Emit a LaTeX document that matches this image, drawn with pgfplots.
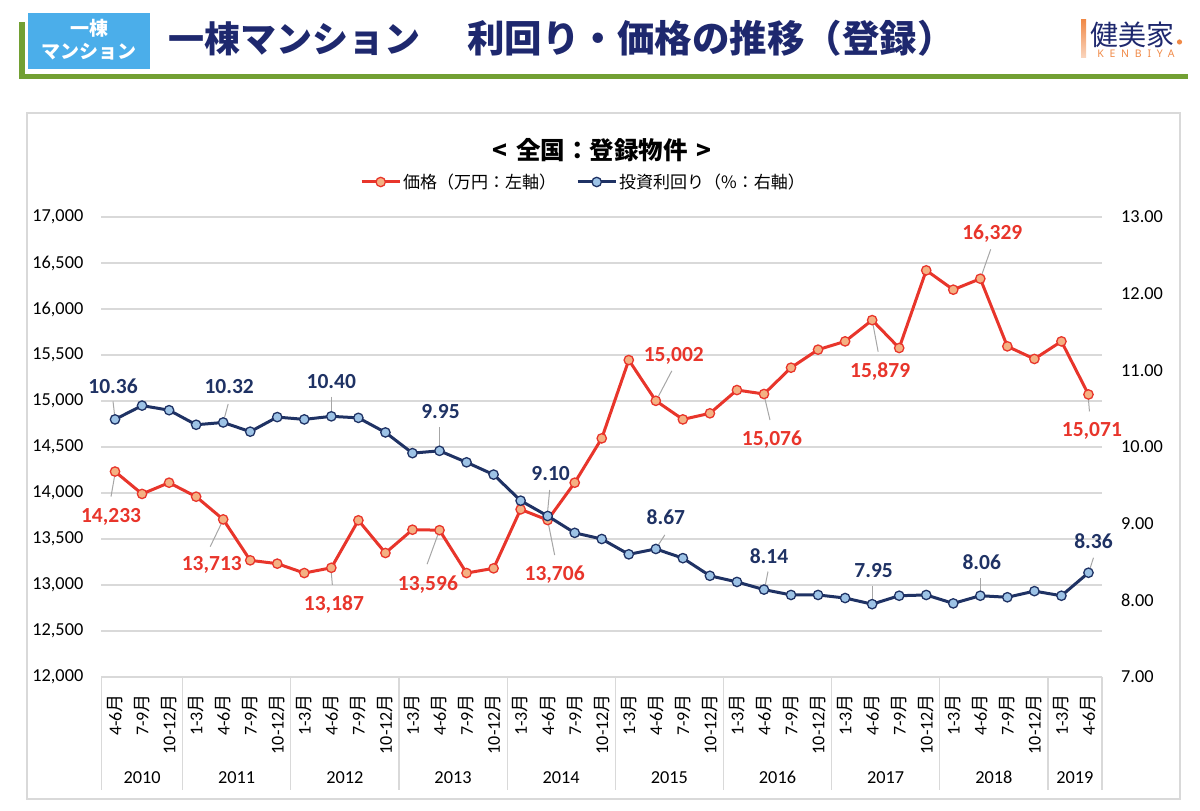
\documentclass[border=0pt]{standalone}
\usepackage{fontspec}
\setmainfont{Carlito}
\newfontfamily\jp{Noto Sans CJK JP}
\newfontfamily\ken{Noto Sans}[LetterSpace=55]
\usepackage{pgfplots}
\usepackage{pgfplotstable}
\pgfplotsset{compat=1.18}
\definecolor{pr}{HTML}{E8352B}
\definecolor{prfill}{HTML}{F4B183}
\definecolor{yl}{HTML}{1F3264}
\definecolor{ylfill}{HTML}{9DC3E6}
\definecolor{gridc}{HTML}{D9D9D9}
\definecolor{navy}{HTML}{1E286E}
\definecolor{hgreen}{HTML}{72A033}
\definecolor{hblue}{HTML}{4BAEEA}
\definecolor{orng}{HTML}{F08A48}
\definecolor{leadc}{HTML}{A6A6A6}
\tikzset{
 pricestyle/.style={pr, line width=3pt, mark=*, mark size=4.7pt, mark options={fill=prfill, draw=pr, line width=1.3pt}},
 yieldstyle/.style={yl, line width=3pt, mark=*, mark size=4.7pt, mark options={fill=ylfill, draw=yl, line width=1.3pt}},
}
\newcommand\M{{\jp 月}}
\newcommand\lead[5]{\draw[leadc, line width=1pt] ([xshift=#2pt,yshift=#3pt]axis cs:#1) -- ([xshift=#4pt,yshift=#5pt]axis cs:#1);}
\newcommand\lbl[5]{\node[font=\bfseries\fontsize{21.5}{24}\selectfont, text=#5, text height=13.8pt, text depth=0pt, inner sep=0pt, anchor=center] at ([xshift=#2pt,yshift=#3pt]axis cs:#1) {#4};}

\pgfplotstableread{
i price
0 14233
1 13990
2 14112
3 13960
4 13713
5 13268
6 13232
7 13130
8 13187
9 13703
10 13348
11 13601
12 13596
13 13130
14 13181
15 13822
16 13706
17 14112
18 14594
19 15445
20 15002
21 14800
22 14866
23 15119
24 15076
25 15362
26 15558
27 15648
28 15879
29 15576
30 16420
31 16210
32 16329
33 15594
34 15457
35 15648
36 15071
}\pricetab
\pgfplotstableread{
i yield
0 10.36
1 10.54
2 10.48
3 10.29
4 10.32
5 10.20
6 10.39
7 10.36
8 10.40
9 10.38
10 10.19
11 9.92
12 9.95
13 9.80
14 9.64
15 9.30
16 9.10
17 8.88
18 8.80
19 8.60
20 8.67
21 8.55
22 8.32
23 8.24
24 8.14
25 8.07
26 8.07
27 8.03
28 7.95
29 8.06
30 8.07
31 7.96
32 8.06
33 8.04
34 8.12
35 8.06
36 8.36
}\yieldtab

\begin{document}
\begin{tikzpicture}
\path[use as bounding box] (0pt,0pt) rectangle (1200pt,811pt);
% header
\fill[hgreen] (19pt,789pt) rectangle (25pt,732pt);
\fill[hgreen] (19pt,737pt) rectangle (1188pt,732pt);
\fill[hblue] (28pt,798pt) rectangle (150pt,742pt);
\node[text=white, font=\jp\bfseries\fontsize{19}{22}\selectfont, inner sep=0pt] at (89pt,782.5pt) {一棟};
\node[text=white, font=\jp\bfseries\fontsize{19}{22}\selectfont, inner sep=0pt] at (89pt,759.5pt) {マンション};
\node[text=navy, font=\jp\bfseries\fontsize{36}{40}\selectfont, inner sep=0pt, anchor=west] at (168pt,773pt) {一棟マンション　\hspace{0.3em}{\fontsize{37.5}{40}\selectfont 利回り・価格の推移（登録）}};
\shade[top color=orng, bottom color=orng!35] (1081pt,791pt) rectangle (1086pt,753pt);
\node[text=navy, font=\jp\fontsize{28}{30}\selectfont, inner sep=0pt, anchor=west] at (1090pt,776.5pt) {健美家};
\fill[orng] (1179.5pt,769pt) circle (2.6pt);
\node[text=orng, font=\ken\fontsize{10.5}{12}\selectfont, inner sep=0pt] at (1136pt,757pt) {KENBIYA};
% chart frame
\draw[gridc, line width=1.3pt] (27pt,698pt) rectangle (1180pt,12pt);
\node[font=\jp\bfseries\fontsize{24.5}{27}\selectfont, inner sep=0pt] at (602pt,661pt) {<\hspace{0.35em}全国：登録物件\hspace{0.35em}>};

\begin{axis}[
 at={(101.5pt,134pt)}, anchor=south west, scale only axis,
 width=1000.5pt, height=460pt,
 xmin=-0.5, xmax=36.5, ymin=12000, ymax=17000,
 ytick={12000,12500,...,17000},
 scaled y ticks=false,
 xtick={0,...,36},
 xticklabels={4-6\M,7-9\M,10-12\M,
 1-3\M,4-6\M,7-9\M,10-12\M, 1-3\M,4-6\M,7-9\M,10-12\M,
 1-3\M,4-6\M,7-9\M,10-12\M, 1-3\M,4-6\M,7-9\M,10-12\M,
 1-3\M,4-6\M,7-9\M,10-12\M, 1-3\M,4-6\M,7-9\M,10-12\M,
 1-3\M,4-6\M,7-9\M,10-12\M, 1-3\M,4-6\M,7-9\M,10-12\M,
 1-3\M,4-6\M},
 axis x line*=bottom, axis y line*=left,
 y axis line style={draw=none},
 x axis line style={gridc, line width=1.2pt, -},
 major tick length=0pt,
 ymajorgrids, grid style={gridc, line width=1.2pt},
 tick label style={font=\fontsize{18.3}{20}\selectfont},
 yticklabel style={anchor=east, inner sep=0pt, /pgf/number format/.cd, fixed, precision=0, 1000 sep={,}, assume math mode=true},
 yticklabel shift=18pt,
 xticklabel style={rotate=90, anchor=east, inner sep=0pt, font=\fontsize{18}{20}\selectfont},
 xticklabel shift=17pt,
 clip=false]
\foreach \s in {-0.5,2.5,6.5,10.5,14.5,18.5,22.5,26.5,30.5,34.5,36.5}{
 \edef\tmp{\noexpand\draw[gridc, line width=1.2pt] (axis cs:\s,12000) -- ++(0pt,-113pt);}\tmp
}
\foreach \c/\yr in {1/2010,4.5/2011,8.5/2012,12.5/2013,16.5/2014,20.5/2015,24.5/2016,28.5/2017,32.5/2018,35.5/2019}{
 \edef\tmp{\noexpand\node[font=\noexpand\fontsize{18.3}{20}\noexpand\selectfont, inner sep=0pt, text height=11.8pt, text depth=0pt, anchor=base] at ([yshift=-107pt]axis cs:\c,12000) {\yr};}\tmp
}
\lead{0,14233}{-4}{-25}{-0.5}{-5}
\lead{4,13713}{-13}{-27.3}{-2}{-4.5}
\lead{8,13187}{1}{-17}{0}{-5}
\lead{12,13596}{-12.4}{-34}{-1.7}{-4.7}
\lead{16,13706}{7}{-35}{1}{-5}
\lead{20,15002}{16}{30}{2.5}{4.3}
\lead{24,15076}{6}{-26}{1}{-5}
\lead{28,15879}{6}{-31.6}{1}{-5}
\lead{32,16329}{10.4}{29.4}{1.7}{4.7}
\lead{36,15071}{1}{-17}{0}{-5}
\addplot[pricestyle] table[x=i,y=price] {\pricetab};
\lbl{0,14233}{-4}{-44.4}{14,233}{pr}
\lbl{4,13713}{-11.4}{-44.6}{13,713}{pr}
\lbl{8,13187}{2.6}{-36}{13,187}{pr}
\lbl{12,13596}{-11.6}{-53}{13,596}{pr}
\lbl{16,13706}{7}{-53.3}{13,706}{pr}
\lbl{20,15002}{18}{45.8}{15,002}{pr}
\lbl{24,15076}{8}{-44.3}{15,076}{pr}
\lbl{28,15879}{8}{-50.6}{15,879}{pr}
\lbl{32,16329}{12}{46.4}{16,329}{pr}
\lbl{36,15071}{3.4}{-35.5}{15,071}{pr}
\end{axis}

\begin{axis}[
 at={(101.5pt,134pt)}, anchor=south west, scale only axis,
 width=1000.5pt, height=460pt,
 xmin=-0.5, xmax=36.5, ymin=7, ymax=13,
 ytick={7,8,...,13},
 axis y line*=right, axis x line=none,
 y axis line style={draw=none},
 major tick length=0pt,
 tick label style={font=\fontsize{18.3}{20}\selectfont},
 yticklabel style={anchor=west, inner sep=0pt, /pgf/number format/.cd, fixed, fixed zerofill, precision=2, assume math mode=true},
 yticklabel shift=19pt,
 clip=false,
 legend columns=2,
 legend style={at={(0.4818,1.0761)}, anchor=center, draw=none, fill=none, inner sep=0pt,
   font=\jp\fontsize{17}{20}\selectfont,
   /tikz/every even column/.append style={column sep=18pt}},
 legend image code/.code={\draw[mark repeat=2,mark phase=2,#1] plot coordinates {(0pt,0pt) (19pt,0pt) (38pt,0pt)};},
]
\addlegendimage{pricestyle}
\addlegendentry{価格（万円：左軸）}
\lead{0,10.36}{-2}{18}{-0.5}{5}
\lead{4,10.32}{5}{18.5}{1.3}{4.8}
\lead{8,10.40}{0}{19.6}{0}{5}
\lead{12,9.95}{0}{24}{0}{5}
\lead{16,9.10}{2}{26}{0}{5}
\lead{20,8.67}{9}{14}{2.6}{4.2}
\lead{24,8.14}{4}{18}{1.4}{4.8}
\lead{28,7.95}{0}{18}{0}{5}
\lead{32,8.06}{0}{17.4}{0}{5}
\lead{36,8.36}{5}{15}{1.7}{4.7}
\addplot[yieldstyle] table[x=i,y=yield] {\yieldtab};
\addlegendentry{投資利回り（\%：右軸）}
\lbl{0,10.36}{-2}{33}{10.36}{yl}
\lbl{4,10.32}{6}{36}{10.32}{yl}
\lbl{8,10.40}{0}{35}{10.40}{yl}
\lbl{12,9.95}{1}{39}{9.95}{yl}
\lbl{16,9.10}{3}{42}{9.10}{yl}
\lbl{20,8.67}{10}{31}{8.67}{yl}
\lbl{24,8.14}{5}{33}{8.14}{yl}
\lbl{28,7.95}{1.5}{33.5}{7.95}{yl}
\lbl{32,8.06}{1.5}{33}{8.06}{yl}
\lbl{36,8.36}{5}{31}{8.36}{yl}
\end{axis}
\end{tikzpicture}
\end{document}
